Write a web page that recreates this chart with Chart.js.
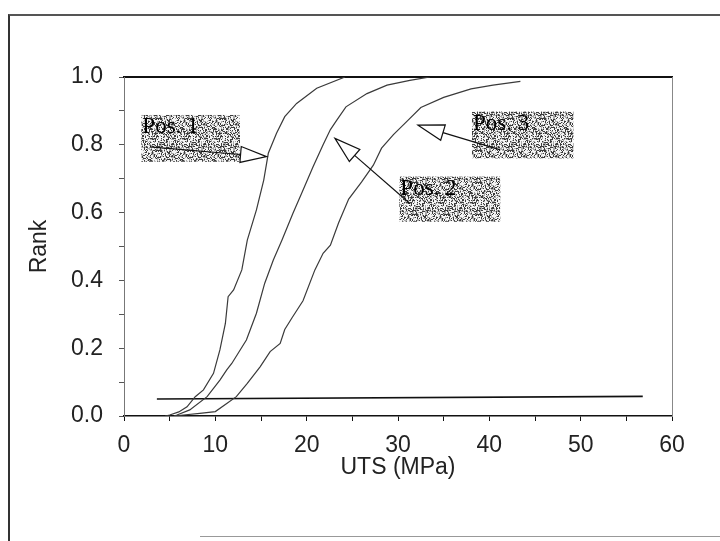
<!DOCTYPE html>
<html>
<head>
<meta charset="utf-8">
<script src="https://cdn.jsdelivr.net/npm/chart.js@4.4.0/dist/chart.umd.min.js"></script>
<style>
  html, body { margin: 0; padding: 0; background: #fff; }
  #wrap { position: relative; width: 720px; height: 541px; overflow: hidden; }
  #frame { position: absolute; left: 8px; top: 14px; width: 760px; height: 600px; border-left: 2px solid #333; border-top: 2px solid #555; }
  #foot { position: absolute; left: 200px; top: 536px; width: 520px; border-top: 1px solid #999; }
  canvas { position: absolute; left: 0; top: 0; }
</style>
</head>
<body>
<div id="wrap">
  <div id="frame"></div>
  <div id="foot"></div>
  <canvas id="cdf" width="720" height="541"></canvas>
</div>
<script>
// cumulative rank vs UTS
const pos1X = [4.5, 5.0, 6.0, 6.9, 7.8, 8.7, 9.8, 10.5, 11.1, 11.4, 12.0, 12.9, 13.5, 14.5, 15.3, 15.8, 16.7, 17.6, 18.9, 21.1, 24.2];
const pos1Y = [0.0, 0.003, 0.012, 0.027, 0.057, 0.077, 0.126, 0.195, 0.273, 0.352, 0.372, 0.431, 0.519, 0.608, 0.696, 0.775, 0.834, 0.883, 0.922, 0.967, 1.0];

const pos2X = [5.5, 5.8, 7.2, 9.1, 10.5, 11.25, 11.8, 13.4, 14.5, 15.4, 16.35, 17.3, 18.5, 19.5, 20.7, 21.8, 22.6, 23.3, 24.3, 26.6, 28.8, 31.3, 33.5];
const pos2Y = [0.0, 0.003, 0.018, 0.057, 0.106, 0.136, 0.155, 0.224, 0.303, 0.391, 0.46, 0.519, 0.598, 0.66, 0.735, 0.8, 0.845, 0.873, 0.912, 0.951, 0.976, 0.99, 1.0];

const pos3X = [5.5, 6.5, 8.3, 10.0, 11.25, 12.3, 13.5, 14.9, 16.0, 17.1, 17.6, 18.4, 19.6, 20.9, 21.8, 22.6, 23.5, 24.6, 26.0, 27.3, 28.2, 29.5, 31.0, 32.5, 35.0, 38.0, 40.4, 43.4];
const pos3Y = [0.0, 0.003, 0.008, 0.013, 0.037, 0.057, 0.096, 0.145, 0.19, 0.214, 0.255, 0.29, 0.34, 0.431, 0.48, 0.504, 0.57, 0.64, 0.69, 0.74, 0.79, 0.83, 0.87, 0.91, 0.94, 0.965, 0.976, 0.987];

const levelX = [3.6, 56.8];
const levelY = [0.05, 0.058];

const seriesNames = ['Pos. 1', 'Pos. 2', 'Pos. 3'];

const pts = (xs, ys) => xs.map((x, i) => ({ x, y: ys[i] }));

// callout boxes + arrows, in data units
const notes = [
    { text: seriesNames[0], box: [1.9, 0.888, 12.7, 0.75], from: [2.85, 0.794], to: [15.6, 0.765] },
    { text: seriesNames[1], box: [30.15, 0.706, 41.2, 0.573], from: [31.3, 0.627], to: [23.1, 0.819] },
    { text: seriesNames[2], box: [38.1, 0.898, 49.2, 0.76], from: [41.2, 0.785], to: [32.2, 0.858] },
];

function makeStipple() {
    const c = document.createElement('canvas');
    c.width = 32; c.height = 32;
    const g = c.getContext('2d');
    const img = g.createImageData(32, 32);
    for (let i = 0; i < 32 * 32; i++) {
        const h = Math.abs(Math.sin(i * 12.9898 + 4.1) * 43758.5453) % 1;
        const v = h < 0.3 ? 60 : (h < 0.55 ? 170 : 245);
        img.data[i * 4] = v;
        img.data[i * 4 + 1] = v;
        img.data[i * 4 + 2] = v;
        img.data[i * 4 + 3] = 255;
    }
    g.putImageData(img, 0, 0);
    return c;
}

function arrow(ctx, x1, y1, x2, y2) {
    const a = Math.atan2(y2 - y1, x2 - x1);
    const len = 26, half = 8;
    const bx = x2 - len * Math.cos(a), by = y2 - len * Math.sin(a);
    ctx.beginPath();
    ctx.moveTo(x1, y1);
    ctx.lineTo(bx, by);
    ctx.stroke();
    ctx.beginPath();
    ctx.moveTo(x2, y2);
    ctx.lineTo(bx + half * Math.sin(a), by - half * Math.cos(a));
    ctx.lineTo(bx - half * Math.sin(a), by + half * Math.cos(a));
    ctx.closePath();
    ctx.fillStyle = '#fff';
    ctx.fill();
    ctx.stroke();
}

const notesPlugin = {
    id: 'notes',
    afterDatasetsDraw(chart) {
        const { ctx, scales: { x, y } } = chart;
        const pattern = ctx.createPattern(makeStipple(), 'repeat');
        ctx.save();
        notes.forEach((n) => {
            const x0 = x.getPixelForValue(n.box[0]);
            const y0 = y.getPixelForValue(n.box[1]);
            const x1 = x.getPixelForValue(n.box[2]);
            const y1 = y.getPixelForValue(n.box[3]);
            ctx.fillStyle = pattern;
            ctx.fillRect(x0, y0, x1 - x0, y1 - y0);
            ctx.fillStyle = '#000';
            ctx.font = '23px "Liberation Serif", "DejaVu Serif", serif';
            ctx.textAlign = 'left';
            ctx.textBaseline = 'alphabetic';
            ctx.fillText(n.text, x0 + 1, y0 + 18);
            ctx.strokeStyle = '#111';
            ctx.lineWidth = 1.2;
            arrow(ctx,
                x.getPixelForValue(n.from[0]), y.getPixelForValue(n.from[1]),
                x.getPixelForValue(n.to[0]), y.getPixelForValue(n.to[1]));
        });
        ctx.restore();
    },
};

const curveStyle = {
    borderColor: '#3a3a3a',
    borderWidth: 1.2,
    pointRadius: 0,
    tension: 0,
    fill: false,
};

const tickFont = { family: '"Liberation Sans", Arial, sans-serif', size: 23 };

new Chart(document.getElementById('cdf'), {
    type: 'line',
    data: {
        datasets: [
            { label: seriesNames[0], data: pts(pos1X, pos1Y), ...curveStyle },
            { label: seriesNames[1], data: pts(pos2X, pos2Y), ...curveStyle },
            { label: seriesNames[2], data: pts(pos3X, pos3Y), ...curveStyle },
            { label: 'level', data: pts(levelX, levelY), ...curveStyle, borderColor: '#111', borderWidth: 1.6 },
        ],
    },
    options: {
        responsive: false,
        animation: false,
        layout: { padding: { left: 0, top: 77, right: 48, bottom: 0 } },
        plugins: {
            legend: { display: false },
            tooltip: { enabled: false },
        },
        scales: {
            x: {
                type: 'linear',
                position: 'bottom',
                min: 0,
                max: 60,
                afterFit: (s) => { s.height = 125; },
                ticks: {
                    stepSize: 5,
                    autoSkip: false,
                    maxRotation: 0,
                    padding: 11,
                    color: '#222',
                    font: tickFont,
                    callback: (v) => (v % 10 === 0 ? String(v) : ''),
                },
                grid: { drawOnChartArea: false, tickLength: 5, color: '#111' },
                border: { color: '#111', width: 1.5 },
                title: {
                    display: true,
                    text: 'UTS (MPa)',
                    color: '#222',
                    font: tickFont,
                    padding: { top: 0, bottom: 60 },
                },
            },
            x2: {
                type: 'linear',
                position: 'top',
                min: 0,
                max: 60,
                afterFit: (s) => { s.height = 0; },
                ticks: { display: false },
                grid: { drawOnChartArea: false, drawTicks: false },
                border: { color: '#111', width: 2 },
            },
            y: {
                position: 'left',
                min: 0,
                max: 1,
                afterFit: (s) => { s.width = 124; },
                ticks: {
                    stepSize: 0.1,
                    autoSkip: false,
                    padding: 16,
                    color: '#222',
                    font: tickFont,
                    callback: (v) => (Math.round(v * 10) % 2 === 0 ? v.toFixed(1) : ''),
                },
                grid: { drawOnChartArea: false, tickLength: 5, color: '#555' },
                border: { color: '#777', width: 1, dash: [2, 2] },
                title: {
                    display: true,
                    text: 'Rank',
                    color: '#222',
                    font: tickFont,
                    padding: { top: 26, bottom: 0 },
                },
            },
            y2: {
                position: 'right',
                min: 0,
                max: 1,
                afterFit: (s) => { s.width = 0; },
                ticks: { display: false },
                grid: { drawOnChartArea: false, drawTicks: false },
                border: { color: '#888', width: 1, dash: [2, 2] },
            },
        },
    },
    plugins: [notesPlugin],
});
</script>
</body>
</html>
